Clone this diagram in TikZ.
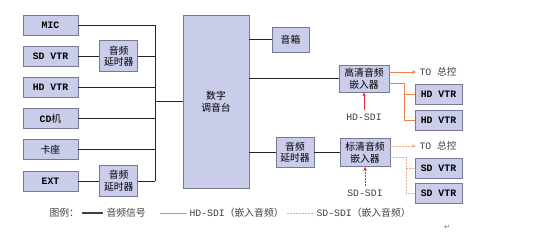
\documentclass[tikz,border=0pt]{standalone}
\usepackage{fontspec}
\setmainfont{Liberation Mono}
\newfontfamily\zhfont{Noto Sans CJK SC}
\newfontfamily\symfont{DejaVu Sans}
\newcommand\zh[1]{{\zhfont\mdseries #1}}
\newcommand\dsize{\fontsize{9.8}{11.5}\selectfont}
\definecolor{boxfill}{RGB}{201,205,234}
\definecolor{boxline}{RGB}{118,120,150}
\definecolor{hdorange}{RGB}{240,130,75}
\definecolor{sdorange}{RGB}{245,168,125}
\definecolor{sdired}{RGB}{226,40,40}
\usetikzlibrary{arrows.meta,positioning}

\begin{document}
\begin{tikzpicture}[x=1pt,y=-1pt,node distance=10.5pt and 21pt,
    box/.style={draw=boxline,fill=boxfill,line width=0.7pt,align=center,inner sep=1pt,font=\dsize},
    zhbox/.style={box,font=\zhfont\dsize},
    src/.style={box,minimum width=55pt,minimum height=20pt,font=\dsize\bfseries},
    dly/.style={zhbox,minimum width=38pt,minimum height=31pt},
    vtr/.style={src,minimum width=47pt},
    lbl/.style={font=\dsize,text=black!75},
    wire/.style={line width=0.8pt,black!85},
    hd/.style={line width=0.8pt,hdorange},
    sd/.style={line width=0.8pt,sdorange,dash pattern=on 2pt off 1pt},
    arr/.style={-{Stealth[length=4pt,width=3.5pt]}}]
    \useasboundingbox (0,0) rectangle (550,233);
    % sources
    \node[src] (mic) at (50.5,25) {MIC};
    \node[src,below=of mic] (sdvtr) {SD VTR};
    \node[src,below=of sdvtr] (hdvtr) {HD VTR};
    \node[src,below=of hdvtr] (cd) {CD\zh{机}};
    \node[src,below=of cd] (kz) {\zh{卡座}};
    \node[src,below=of kz] (ext) {EXT};
    \node[dly,right=of sdvtr] (dlya) {音频\\延时器};
    \node[dly,right=of ext] (dlyb) {音频\\延时器};
    \coordinate (bus) at (155,0);
    % mixer and outputs
    \node[zhbox,minimum width=66pt,minimum height=173pt] (mixer) at (216,101.5) {数字\\调音台};
    \node[zhbox,minimum width=37pt,minimum height=25pt] (spk) at (290.5,39.5) {音箱};
    \node[zhbox,minimum width=50pt,minimum height=27pt] (hdemb) at (364,78.5) {高清音频\\嵌入器};
    \node[dly,minimum height=30pt] (dlyc) at (295,152.5) {音频\\延时器};
    \node[zhbox,minimum width=50pt,minimum height=28pt] (sdemb) at (365,152.5) {标清音频\\嵌入器};
    \node[vtr] (hdvtra) at (438.5,94) {HD VTR};
    \node[vtr,below=6pt of hdvtra] (hdvtrb) {HD VTR};
    \node[vtr] (sdvtra) at (438.5,168) {SD VTR};
    \node[vtr,below=5pt of sdvtra] (sdvtrb) {SD VTR};
    \node[lbl,anchor=west] (hdto) at (416,72) {TO \zh{总控}};
    \node[lbl,anchor=west] (sdto) at (416,146) {TO \zh{总控}};
    \node[lbl] (hdsdi) at (364,117) {HD-SDI};
    \node[lbl] (sdsdi) at (365,193) {SD-SDI};
    \coordinate (hdsplit) at (404,0);
    \coordinate (sdsplit) at (406,0);
    % audio wires
    \draw[wire] (mic.east) -- (mic.east -| bus) -- (dlyb.east -| bus);
    \draw[wire] (sdvtr.east) -- (dlya.west); \draw[wire] (dlya.east) -- (dlya.east -| bus);
    \draw[wire] (hdvtr.east) -- (hdvtr.east -| bus); \draw[wire] (cd.east) -- (cd.east -| bus);
    \draw[wire] (kz.east) -- (kz.east -| bus);
    \draw[wire] (ext.east) -- (dlyb.west); \draw[wire] (dlyb.east) -- (dlyb.east -| bus);
    \draw[wire] (bus |- mixer.west) -- (mixer.west);
    \draw[wire] (spk.west -| mixer.east) -- (spk.west);
    \draw[wire] (hdemb.west -| mixer.east) -- (hdemb.west);
    \draw[wire] (dlyc.west -| mixer.east) -- (dlyc.west); \draw[wire] (dlyc.east) -- (sdemb.west);
    % embedded outputs
    \draw[hd,arr] ([yshift=6.5pt]hdemb.east) -- (hdto.west);
    \draw[hd] ([yshift=-4.5pt]hdemb.east) -| (hdsplit |- hdvtrb) -- (hdvtrb.west);
    \draw[hd] (hdsplit |- hdvtra) -- (hdvtra.west);
    \draw[sd,arr] ([yshift=6.5pt]sdemb.east) -- (sdto.west);
    \draw[sd] ([yshift=-4.5pt]sdemb.east) -| (sdsplit |- sdvtrb) -- (sdvtrb.west);
    \draw[sd] (sdsplit |- sdvtra) -- (sdvtra.west);
    \draw[line width=0.8pt,sdired,arr] (hdsdi.north) -- (hdemb.south);
    \draw[line width=0.8pt,sdired,arr,dash pattern=on 2pt off 1pt] (sdsdi.north) -- (sdemb.south);
    % legend
    \node[lbl,anchor=west,font=\zhfont\dsize] (lgkey) at (46,213) {图例：};
    \node[lbl,anchor=west,font=\zhfont\dsize] (lgaudio) at (103,213) {音频信号};
    \draw[line width=1.3pt,black!75] (lgkey.east) -- (lgaudio.west);
    \coordinate (lghd) at (160,213);
    \node[lbl,anchor=west] (lghdtxt) at (186,213) {HD-SDI\zh{（嵌入音频）}};
    \draw[hd] (lghd) -- (lghdtxt.west);
    \coordinate (lgsd) at (287,213);
    \node[lbl,anchor=west] (lgsdtxt) at (313,213) {SD-SDI\zh{（嵌入音频）}};
    \draw[sd] (lgsd) -- (lgsdtxt.west);
    \node[font=\symfont\fontsize{7}{8}\selectfont,text=black!60] (pmark) at (447,227) {↵};
  \end{tikzpicture}
\end{document}
